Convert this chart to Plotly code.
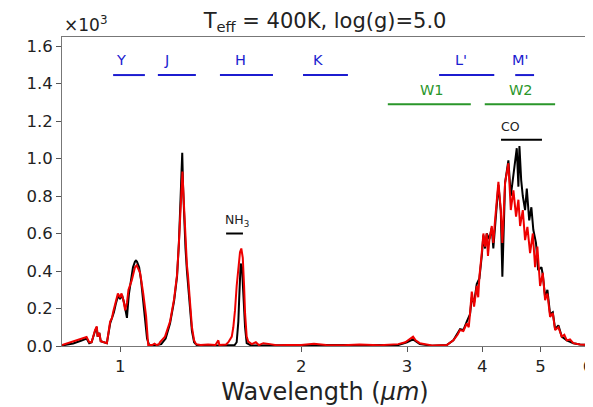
import math
import plotly.graph_objects as go

# ---- spectra (flux in units of 10^3) ----
wl_black = [0.800, 0.835, 0.860, 0.879, 0.888, 0.896, 0.908, 0.914, 0.917, 0.923, 0.928, 0.937, 0.950,
            0.962, 0.969, 0.976, 0.984, 0.992, 0.999, 1.007, 1.015, 1.019, 1.026, 1.030, 1.034, 1.042,
            1.050, 1.058, 1.062, 1.066, 1.075, 1.083, 1.091, 1.100, 1.108, 1.117, 1.150, 1.170, 1.190,
            1.210, 1.229, 1.243, 1.252, 1.262, 1.268, 1.272, 1.277, 1.284, 1.291, 1.301, 1.311, 1.316,
            1.327, 1.340, 1.450, 1.550, 1.562, 1.572, 1.577, 1.586, 1.594, 1.600, 1.613, 1.623, 1.650,
            2.100, 2.900, 3.000, 3.070, 3.150, 3.300, 3.493, 3.582, 3.675, 3.722, 3.771, 3.819, 3.844,
            3.878, 3.918, 3.958, 3.994, 4.019, 4.045, 4.071, 4.112, 4.150, 4.175, 4.219, 4.257, 4.296,
            4.322, 4.367, 4.423, 4.464, 4.509, 4.537, 4.567, 4.596, 4.614, 4.645, 4.674, 4.715, 4.746,
            4.790, 4.830, 4.866, 4.916, 4.957, 5.020, 5.046, 5.091, 5.136, 5.189, 5.243, 5.290, 5.357,
            5.426, 5.532, 5.672, 5.820, 6.000]
flux_black = [0.003, 0.013, 0.028, 0.040, 0.015, 0.020, 0.080, 0.100, 0.050, 0.070, 0.025, 0.020, 0.015,
              0.120, 0.150, 0.180, 0.230, 0.270, 0.250, 0.270, 0.230, 0.190, 0.150, 0.220, 0.280, 0.350,
              0.420, 0.450, 0.455, 0.450, 0.420, 0.350, 0.250, 0.130, 0.040, 0.005, 0.005, 0.010, 0.040,
              0.120, 0.240, 0.370, 0.550, 0.850, 1.030, 0.850, 0.700, 0.520, 0.400, 0.280, 0.150, 0.080,
              0.020, 0.005, 0.003, 0.005, 0.020, 0.130, 0.250, 0.440, 0.420, 0.310, 0.100, 0.015, 0.003,
              0.005, 0.005, 0.020, 0.035, 0.010, 0.002, 0.005, 0.030, 0.090, 0.085, 0.130, 0.170, 0.260,
              0.230, 0.330, 0.360, 0.480, 0.590, 0.520, 0.600, 0.570, 0.630, 0.520, 0.700, 0.860, 0.720,
              0.370, 0.870, 0.990, 0.800, 0.900, 0.975, 1.055, 0.850, 1.067, 0.885, 0.800, 0.725, 0.840,
              0.670, 0.740, 0.620, 0.550, 0.405, 0.420, 0.380, 0.260, 0.300, 0.170, 0.180, 0.090, 0.110,
              0.050, 0.030, 0.015, 0.008, 0.005]

wl_red = [0.800, 0.835, 0.860, 0.879, 0.888, 0.896, 0.908, 0.914, 0.917, 0.923, 0.928, 0.937, 0.950,
          0.962, 0.969, 0.973, 0.979, 0.985, 0.991, 0.999, 1.005, 1.012, 1.019, 1.026, 1.032, 1.045,
          1.058, 1.065, 1.079, 1.092, 1.104, 1.113, 1.130, 1.140, 1.150, 1.160, 1.164, 1.187, 1.210,
          1.229, 1.243, 1.252, 1.262, 1.269, 1.277, 1.284, 1.291, 1.296, 1.301, 1.306, 1.311, 1.316,
          1.327, 1.337, 1.360, 1.400, 1.440, 1.447, 1.456, 1.462, 1.500, 1.513, 1.533, 1.542, 1.552,
          1.562, 1.572, 1.582, 1.590, 1.599, 1.607, 1.613, 1.623, 1.633, 1.655, 1.681, 1.700, 1.730,
          1.775, 1.820, 1.900, 2.000, 2.100, 2.200, 2.350, 2.500, 2.700, 2.900, 2.980, 3.040, 3.070,
          3.100, 3.150, 3.300, 3.493, 3.582, 3.640, 3.675, 3.722, 3.771, 3.800, 3.819, 3.844, 3.878,
          3.918, 3.940, 3.958, 3.994, 4.019, 4.045, 4.071, 4.090, 4.112, 4.150, 4.175, 4.200, 4.219,
          4.257, 4.296, 4.322, 4.367, 4.423, 4.464, 4.509, 4.555, 4.596, 4.626, 4.674, 4.715, 4.757,
          4.806, 4.857, 4.899, 4.942, 4.994, 5.046, 5.091, 5.136, 5.189, 5.243, 5.290, 5.357, 5.426,
          5.480, 5.532, 5.600, 5.672, 5.820, 6.000]
flux_red = [0.005, 0.023, 0.038, 0.048, 0.020, 0.020, 0.085, 0.105, 0.050, 0.070, 0.025, 0.020, 0.015,
            0.130, 0.150, 0.180, 0.210, 0.245, 0.280, 0.260, 0.280, 0.245, 0.190, 0.230, 0.300, 0.350,
            0.420, 0.430, 0.390, 0.280, 0.160, 0.005, 0.005, 0.012, 0.005, 0.010, 0.020, 0.050, 0.130,
            0.250, 0.380, 0.550, 0.780, 0.930, 0.740, 0.550, 0.430, 0.380, 0.310, 0.280, 0.190, 0.100,
            0.030, 0.010, 0.005, 0.008, 0.005, 0.015, 0.030, 0.005, 0.008, 0.020, 0.050, 0.100, 0.190,
            0.320, 0.420, 0.500, 0.520, 0.470, 0.320, 0.175, 0.050, 0.023, 0.010, 0.020, 0.005, 0.015,
            0.010, 0.004, 0.005, 0.006, 0.012, 0.006, 0.004, 0.008, 0.004, 0.010, 0.020, 0.040, 0.050,
            0.030, 0.015, 0.003, 0.005, 0.030, 0.060, 0.085, 0.080, 0.120, 0.100, 0.175, 0.290, 0.210,
            0.320, 0.260, 0.370, 0.495, 0.600, 0.530, 0.600, 0.480, 0.565, 0.640, 0.550, 0.660, 0.725,
            0.875, 0.725, 0.550, 0.870, 0.975, 0.725, 0.830, 0.690, 0.780, 0.640, 0.725, 0.565, 0.635,
            0.495, 0.600, 0.420, 0.530, 0.320, 0.390, 0.245, 0.280, 0.155, 0.175, 0.085, 0.100, 0.050,
            0.060, 0.030, 0.035, 0.015, 0.008, 0.005]

# ---- photometric bands ----
band_names = ["Y", "J", "H", "K", "L'", "M'"]
band_lo = [0.973, 1.155, 1.465, 2.014, 3.392, 4.54]
band_hi = [1.099, 1.336, 1.795, 2.392, 4.190, 4.88]
band_label_x = [1.003, 1.196, 1.582, 2.134, 3.69, 4.626]

wise_names = ["W1", "W2"]
wise_lo = [2.787, 4.04]
wise_hi = [3.83, 5.29]
wise_label_x = [3.30, 4.645]

mol_names = ["CO", "NH<sub>3</sub>"]
mol_lo = [4.30, 1.50]
mol_hi = [5.03, 1.60]
mol_label_x = [4.464, 1.565]
mol_level = [1.10, 0.60]

BAND_LEVEL = 1.445
WISE_LEVEL = 1.29

FONT = "DejaVu Sans"
BLUE = "#1c1cd0"
GREEN = "#2a962a"

fig = go.Figure()
fig.add_trace(go.Scatter(x=wl_black, y=flux_black, mode="lines",
                         line=dict(color="black", width=2), showlegend=False))
fig.add_trace(go.Scatter(x=wl_red, y=flux_red, mode="lines",
                         line=dict(color="#ee0000", width=2), showlegend=False))

annotations = []
for name, lo, hi, lx in zip(band_names, band_lo, band_hi, band_label_x):
    fig.add_trace(go.Scatter(x=[lo, hi], y=[BAND_LEVEL, BAND_LEVEL], mode="lines",
                             line=dict(color=BLUE, width=2), showlegend=False, hoverinfo="skip"))
    annotations.append(dict(x=math.log10(lx), y=BAND_LEVEL + 0.08, xref="x", yref="y",
                            text=name, showarrow=False, font=dict(family=FONT, size=14.5, color=BLUE)))
for name, lo, hi, lx in zip(wise_names, wise_lo, wise_hi, wise_label_x):
    fig.add_trace(go.Scatter(x=[lo, hi], y=[WISE_LEVEL, WISE_LEVEL], mode="lines",
                             line=dict(color=GREEN, width=2), showlegend=False, hoverinfo="skip"))
    annotations.append(dict(x=math.log10(lx), y=WISE_LEVEL + 0.075, xref="x", yref="y",
                            text=name, showarrow=False, font=dict(family=FONT, size=14.5, color=GREEN)))
for name, lo, hi, lx, lev in zip(mol_names, mol_lo, mol_hi, mol_label_x, mol_level):
    fig.add_trace(go.Scatter(x=[lo, hi], y=[lev, lev], mode="lines",
                             line=dict(color="black", width=2), showlegend=False, hoverinfo="skip"))
    annotations.append(dict(x=math.log10(lx), y=lev + 0.07, xref="x", yref="y",
                            text=name, showarrow=False, font=dict(family=FONT, size=12.5, color="#222")))

annotations.append(dict(x=0, y=1, xref="paper", yref="paper", xanchor="left", yanchor="bottom",
                        yshift=0, text="×10<sup>3</sup>", showarrow=False,
                        font=dict(family=FONT, size=17, color="#222")))

# the page body has an 8px margin, so the figure is sized to land on the same pixels
fig.update_layout(
    width=585, height=399,
    margin=dict(l=54, r=5, t=29, b=61, autoexpand=False),
    paper_bgcolor="white", plot_bgcolor="white",
    font=dict(family=FONT, color="#222"),
    title=dict(text="T<sub>eff</sub> = 400K, log(g)=5.0", x=0.542, xanchor="center",
               y=0.969, yanchor="middle", automargin=False,
               font=dict(family=FONT, size=21, color="#222")),
    annotations=annotations,
)
fig.update_xaxes(type="log", range=[math.log10(0.8), math.log10(6.0)], automargin=False,
                 tickvals=[1, 2, 3, 4, 5, 6], ticktext=["1", "2", "3", "4", "5", "6"],
                 ticklabeloverflow="allow",
                 ticks="outside", ticklen=5, tickcolor="#555", showgrid=False, zeroline=False,
                 showline=True, linecolor="#777", linewidth=1, mirror=True,
                 tickfont=dict(family=FONT, size=16.5, color="#222"),
                 title=dict(text="Wavelength (<i>μm</i>)", font=dict(family=FONT, size=24, color="#222"),
                            standoff=8))
fig.update_yaxes(range=[0, 1.648], tickvals=[0, 0.2, 0.4, 0.6, 0.8, 1.0, 1.2, 1.4, 1.6],
                 tickformat=".1f", ticks="outside", ticklen=5, tickcolor="#555", automargin=False,
                 showgrid=False, zeroline=False, showline=True, linecolor="#777", linewidth=1,
                 mirror=True, tickfont=dict(family=FONT, size=16.5, color="#222"))

fig.write_html("out.html")
